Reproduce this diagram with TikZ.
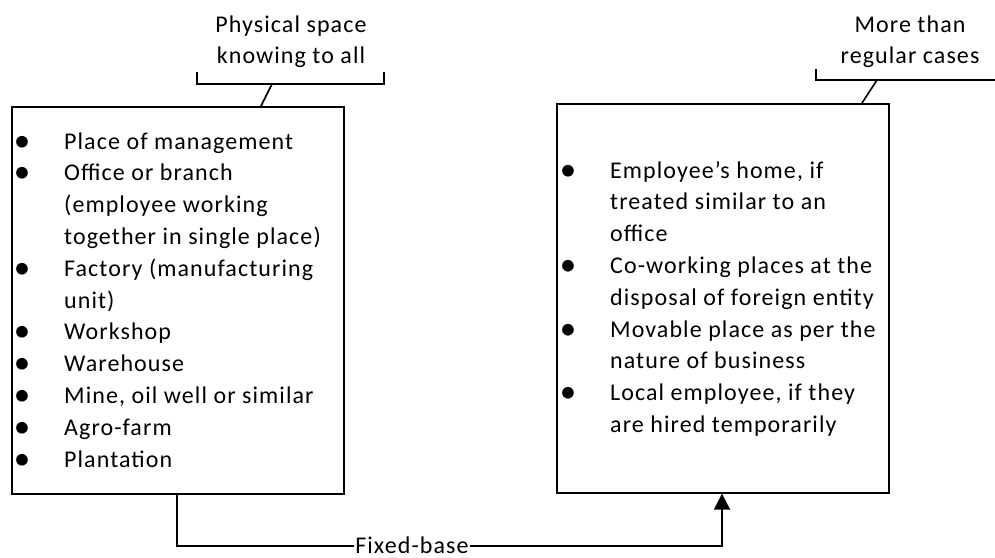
\documentclass[tikz,border=0pt]{standalone}
\usepackage{fontspec}
\setmainfont{Carlito}[LetterSpace=4.5]
\usetikzlibrary{arrows.meta}
\newcommand\lbul[1]{\makebox[48pt][l]{\makebox[12pt][c]{\raisebox{-2pt}{\fontsize{33}{33}\selectfont\textbullet}}}#1}
\newcommand\lcont[1]{\hspace*{48pt}#1}
\begin{document}
\begin{tikzpicture}[x=1pt,y=-1pt,
  ln/.style={line width=1.6pt, black},
  box/.style={draw, line width=1.6pt, inner sep=0pt, anchor=north west},
  listtext/.style={anchor=base west, inner sep=0pt, font=\fontsize{24}{31.8}\selectfont},
  calltext/.style={anchor=base, inner sep=0pt, font=\fontsize{24}{31}\selectfont},
  lbl/.style={fill=white, inner xsep=1.5pt, inner ysep=1pt, text depth=0pt, font=\fontsize{24}{28}\selectfont}]
\useasboundingbox (0,0) rectangle (995,557);
\fill[white] (0,0) rectangle (995,557);
% boxes
\node[box, minimum width=332pt, minimum height=387pt] (L) at (11,106) {};
\node[box, minimum width=332pt, minimum height=389pt] (R) at (556,103) {};
% lists
\node[listtext] (Llist) at (16,149) {\parbox[t]{325pt}{\raggedright
\lbul{Place of management}\\
\lbul{Office or branch}\\
\lcont{(employee working}\\
\lcont{together in single place)}\\
\lbul{Factory (manufacturing}\\
\lcont{unit)}\\
\lbul{Workshop}\\
\lbul{Warehouse}\\
\lbul{Mine, oil well or similar}\\
\lbul{Agro-farm}\\
\lbul{Plantation}}};
\node[listtext] (Rlist) at (562,178) {\parbox[t]{325pt}{\raggedright
\lbul{Employee’s home, if}\\
\lcont{treated similar to an}\\
\lcont{office}\\
\lbul{Co-working places at the}\\
\lcont{disposal of foreign entity}\\
\lbul{Movable place as per the}\\
\lcont{nature of business}\\
\lbul{Local employee, if they}\\
\lcont{are hired temporarily}}};
% callouts
\node[calltext] (cl) at (291,32) {\parbox[t]{200pt}{\centering Physical space\\knowing to all}};
\node[calltext] (cr) at (910,32) {\parbox[t]{200pt}{\centering More than\\regular cases}};
\coordinate (la) at (197,72);
\coordinate (lb) at (197,84);
\coordinate (lc) at (384,84);
\coordinate (ld) at (384,72);
\coordinate (lk) at (272,84);
\draw[ln] (la) -- (lb) -- (lc) -- (ld);
\draw[ln] (lk) -- (L.north -| 261,0);
\coordinate (ra) at (816,69);
\coordinate (rb) at (816,80);
\coordinate (rc) at (1000,80);
\coordinate (rk) at (877,80);
\draw[ln] (ra) -- (rb) -- (rc);
\draw[ln] (rk) -- (R.north -| 862,0);
% connector
\coordinate (cL) at (177,546);
\coordinate (cR) at (722,546);
\draw[ln, -{Triangle[length=16pt,width=16pt]}] (L.south -| cL) -- (cL) -- (cR) -- (R.south -| cR);
\node[lbl, anchor=base] (fb) at (412,553) {Fixed-base};
\end{tikzpicture}
\end{document}
